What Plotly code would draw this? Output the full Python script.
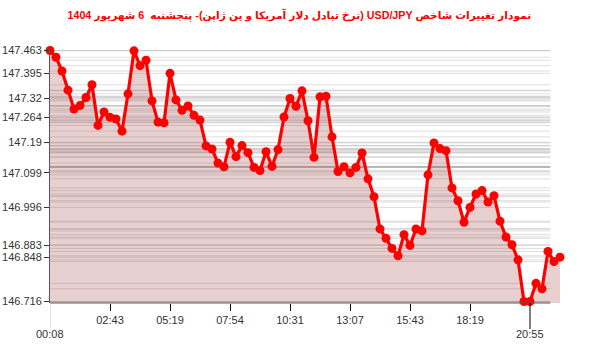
import plotly.graph_objects as go

title_text = "نمودار تغییرات شاخص USD/JPY (نرخ تبادل دلار آمریکا و ین ژاپن)- پنجشنبه  6 شهریور 1404"

values = [
    147.463, 147.443, 147.402, 147.345, 147.289, 147.299, 147.323, 147.361, 147.240, 147.280,
    147.264, 147.259, 147.223, 147.334, 147.462, 147.418, 147.434, 147.313, 147.250, 147.248,
    147.395, 147.316, 147.285, 147.298, 147.270, 147.256, 147.179, 147.170, 147.128, 147.117,
    147.190, 147.147, 147.180, 147.159, 147.115, 147.106, 147.162, 147.118, 147.168, 147.265,
    147.320, 147.297, 147.343, 147.254, 147.145, 147.325, 147.327, 147.206, 147.103, 147.117,
    147.099, 147.115, 147.158, 147.081, 147.028, 146.932, 146.904, 146.874, 146.852, 146.915,
    146.883, 146.932, 146.926, 147.093, 147.188, 147.171, 147.165, 147.054, 147.016, 146.952,
    146.996, 147.036, 147.046, 147.012, 147.031, 146.955, 146.908, 146.885, 146.840, 146.716,
    146.716, 146.770, 146.754, 146.865, 146.835, 146.848,
]
x_idx = list(range(len(values)))

tick_idx = [0, 10, 20, 30, 40, 50, 60, 70, 80]
tick_labels = ["00:08", "02:43", "05:19", "07:54", "10:31", "13:07", "15:43", "18:19", "20:55"]
ytick_idx = tick_idx + [len(values) - 1]
ytick_vals = [values[i] for i in ytick_idx]
ytick_text = [f"{v:g}" for v in ytick_vals]

ymin, ymax = min(values), max(values)
ypad = (ymax - ymin) * 0.006
grid_end = 83.4

fig = go.Figure()
fig.add_trace(go.Scatter(
    x=x_idx, y=values, mode="lines+markers",
    line=dict(color="#ff0000", width=3.2),
    marker=dict(color="#ff0000", size=9),
    fill="tozeroy", fillcolor="rgba(150,40,40,0.22)",
    cliponaxis=False, hoverinfo="skip",
))

shapes = []
for v in values:
    shapes.append(dict(type="line", xref="x", yref="y", x0=0, x1=grid_end, y0=v, y1=v,
                       line=dict(color="rgba(0,0,0,0.13)", width=1), layer="below"))
shapes.append(dict(type="line", xref="x", yref="paper", x0=0, x1=grid_end, y0=0, y1=0,
                   line=dict(color="#555", width=1.2), layer="above"))
plot_h = 254.0
shapes.append(dict(type="line", xref="x", yref="paper", x0=tick_idx[0], x1=tick_idx[0], y0=0, y1=-25 / plot_h,
                   line=dict(color="#ccc", width=1), layer="above"))
shapes.append(dict(type="line", xref="x", yref="paper", x0=tick_idx[-1], x1=tick_idx[-1], y0=0, y1=-26 / plot_h,
                   line=dict(color="#000", width=1), layer="above"))

annotations = []
for i in (0, len(tick_idx) - 1):
    annotations.append(dict(x=tick_idx[i], xref="x", y=0, yref="paper", yshift=-31,
                            text=tick_labels[i], showarrow=False, xanchor="center", yanchor="middle",
                            font=dict(family="Liberation Sans", size=11, color="#333")))

fig.update_layout(
    width=600, height=352,
    margin=dict(l=50, r=40, t=49, b=49, autoexpand=False),
    plot_bgcolor="white", paper_bgcolor="white",
    showlegend=False,
    shapes=shapes,
    annotations=annotations,
    title=dict(text="\u202B" + title_text + "\u202C", x=0.499, xanchor="center", y=1 - 15 / 352, yanchor="middle",
               font=dict(family="Liberation Sans, DejaVu Sans", size=10.7, color="#ff0000", weight="bold")),
    xaxis=dict(range=[0, len(values) - 1], showgrid=False, zeroline=False, showline=False,
               automargin=False,
               tickmode="array", tickvals=tick_idx[1:-1], ticktext=tick_labels[1:-1],
               ticks="outside", ticklen=7, tickcolor="#000", tickwidth=1,
               tickfont=dict(family="Liberation Sans", size=11, color="#333")),
    yaxis=dict(range=[ymin - ypad, ymax + ypad], showgrid=False, zeroline=False,
               showline=True, linecolor="#555", linewidth=1, automargin=False,
               tickmode="array", tickvals=ytick_vals, ticktext=ytick_text,
               ticks="outside", ticklen=5, tickcolor="#333", tickwidth=1,
               tickfont=dict(family="Liberation Sans", size=11, color="#333")),
)

fig.write_html("out.html")
